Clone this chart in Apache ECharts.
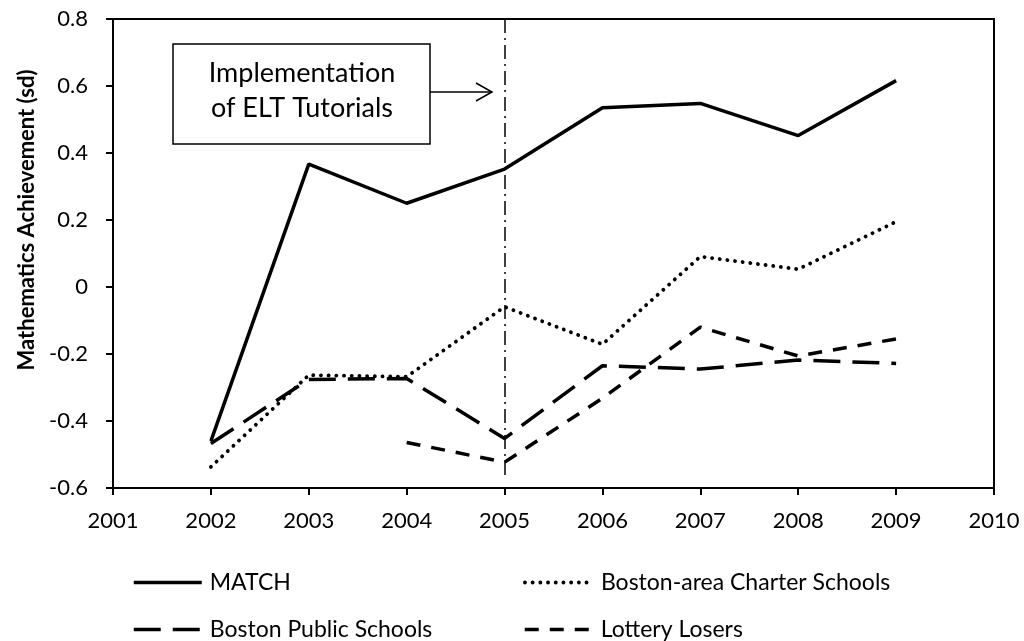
<!DOCTYPE html>
<html>
<head>
<meta charset="utf-8">
<script src="https://cdn.jsdelivr.net/npm/echarts@6/dist/echarts.min.js"></script>
<style>
  html, body { margin: 0; padding: 0; background: #fff; }
  #chart { width: 1024px; height: 641px; }
</style>
</head>
<body>
<div id="chart"></div>
<script>
// values
const years = [2002, 2003, 2004, 2005, 2006, 2007, 2008, 2009];
const matchScores = [-0.46, 0.367, 0.25, 0.352, 0.535, 0.548, 0.452, 0.616];
const charterScores = [-0.537, -0.263, -0.268, -0.059, -0.171, 0.091, 0.053, 0.195];
const bpsScores = [-0.467, -0.276, -0.273, -0.452, -0.235, -0.245, -0.218, -0.228];
const lotteryScores = [null, null, -0.464, -0.523, -0.332, -0.12, -0.206, -0.155];

const xRange = [2001, 2010];
const yRange = [-0.6, 0.8];
const yStep = 0.2;

const implementationYear = 2005;
const implementationSpan = [0.8, -0.57];

const font = 'Lato, "Open Sans", sans-serif';

// line looks, shared by series and legend
const styles = {
    'MATCH': { type: 'solid' },
    'Boston-area Charter Schools': { type: [0.1, 7.6], cap: 'round', width: 3.8 },
    'Boston Public Schools': { type: [27, 12] },
    'Lottery Losers': { type: [14, 11] }
};

function pairs(values) {
    return years
        .map((y, i) => [y, values[i]])
        .filter(p => p[1] !== null);
}

function legendFor(name, left, top) {
    return {
        data: [name],
        left: left,
        top: top,
        itemWidth: 68,
        itemHeight: 14,
        selectedMode: false,
        itemStyle: { opacity: 0, borderWidth: 0 },
        lineStyle: Object.assign({ color: '#000', width: 3.5 }, styles[name]),
        textStyle: { color: '#000', fontSize: 23, fontFamily: font, padding: [0, 0, 0, 3] }
    };
}

const chart = echarts.init(document.getElementById('chart'));

function lineSeries(name, values) {
    return {
        type: 'line',
        name: name,
        data: pairs(values),
        symbol: 'none',
        color: '#000',
        silent: true,
        lineStyle: Object.assign({ color: '#000', width: 3.5 }, styles[name])
    };
}

const matchSeries = lineSeries('MATCH', matchScores);
matchSeries.z = 5;
matchSeries.markLine = {
    silent: true,
    symbol: 'none',
    label: { show: false },
    lineStyle: { color: '#000', width: 1.5, type: [14, 5, 2, 5] },
    data: [[
        { coord: [implementationYear, implementationSpan[0]] },
        { coord: [implementationYear, implementationSpan[1]] }
    ]]
};

const option = {
    animation: false,
    textStyle: { fontFamily: font },
    grid: {
        left: 113,
        top: 19,
        right: 30,
        bottom: 153,
        show: true,
        borderColor: '#000',
        borderWidth: 2,
        containLabel: false
    },
    xAxis: {
        type: 'value',
        min: xRange[0],
        max: xRange[1],
        interval: 1,
        axisLine: { show: true, onZero: false, lineStyle: { color: '#000', width: 2 } },
        axisTick: { show: true, inside: false, length: 7, lineStyle: { color: '#000', width: 2 } },
        splitLine: { show: false },
        axisLabel: {
            color: '#000',
            fontSize: 22,
            fontFamily: font,
            margin: 22,
            formatter: v => String(v)
        }
    },
    yAxis: {
        type: 'value',
        min: yRange[0],
        max: yRange[1],
        interval: yStep,
        axisLine: { show: true, onZero: false, lineStyle: { color: '#000', width: 2 } },
        axisTick: { show: true, inside: false, length: 7, lineStyle: { color: '#000', width: 2 } },
        splitLine: { show: false },
        axisLabel: {
            color: '#000',
            fontSize: 22,
            fontFamily: font,
            margin: 25,
            formatter: v => String(Math.round(v * 10) / 10)
        }
    },
    legend: [
        legendFor('MATCH', 127, 566),
        legendFor('Boston Public Schools', 127, 613),
        legendFor('Boston-area Charter Schools', 518, 566),
        legendFor('Lottery Losers', 518, 613)
    ],
    graphic: [
        {
            type: 'text',
            x: 27,
            y: 220,
            rotation: Math.PI / 2,
            style: {
                text: 'Mathematics Achievement (sd)',
                font: 'bold 22px ' + font,
                fill: '#000',
                textAlign: 'center',
                textVerticalAlign: 'middle'
            }
        },
        {
            type: 'rect',
            shape: { x: 173, y: 44, width: 257, height: 100 },
            style: { fill: '#fff', stroke: '#000', lineWidth: 1.5 },
            z: 10
        },
        {
            type: 'text',
            x: 302,
            y: 91,
            z: 11,
            style: {
                text: 'Implementation\nof ELT Tutorials',
                font: '27px ' + font,
                lineHeight: 35,
                fill: '#000',
                textAlign: 'center',
                textVerticalAlign: 'middle'
            }
        },
        {
            type: 'line',
            shape: { x1: 430, y1: 92, x2: 492, y2: 92 },
            style: { stroke: '#000', lineWidth: 1.5 },
            z: 10
        },
        {
            type: 'polyline',
            shape: { points: [[476, 83], [492, 92], [476, 101]] },
            style: { stroke: '#000', lineWidth: 1.5, fill: null },
            z: 10
        }
    ],
    series: [
        matchSeries,
        lineSeries('Boston-area Charter Schools', charterScores),
        lineSeries('Boston Public Schools', bpsScores),
        lineSeries('Lottery Losers', lotteryScores)
    ]
};

chart.setOption(option);
</script>
</body>
</html>
